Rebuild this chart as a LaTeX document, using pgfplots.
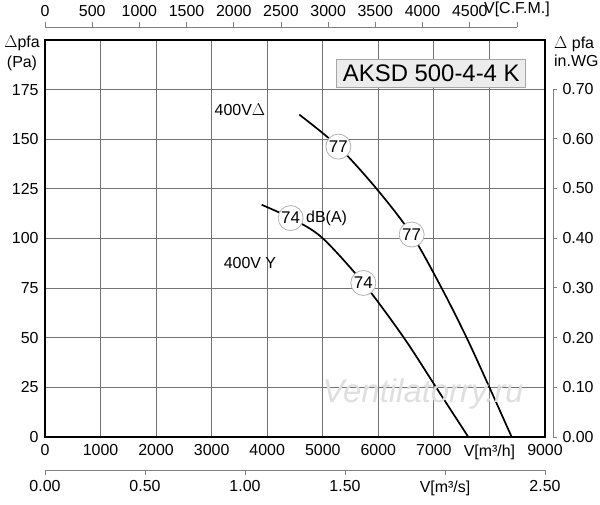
\documentclass[border=0pt]{standalone}
\usepackage{pgfplots}
\pgfplotsset{compat=1.18}
\usepackage{fontspec}
\setmainfont{Liberation Sans}
\begin{document}
\fontsize{16}{19}\selectfont
\begin{tikzpicture}[x=1bp,y=1bp]
\useasboundingbox (-45bp,-68bp) rectangle (555bp,437bp);
% main axis
\begin{axis}[
  at={(0bp,0bp)}, anchor=south west, scale only axis,
  width=500bp, height=397bp,
  xmin=0, xmax=9000, ymin=0, ymax=200,
  xtick={0,1000,...,9000},
  xticklabels={0,1000,2000,3000,4000,5000,6000,7000,{V[m³/h]},9000},
  ytick={0,25,...,175},
  yticklabels={0,25,50,75,100,125,150,175},
  grid=major, major grid style={draw=black!55, line width=0.9bp},
  axis line style={line width=1.7bp, black},
  tick style={draw=none},
  ticklabel style={font=\fontsize{16}{19}\selectfont},
  xticklabel style={yshift=-2bp},
  yticklabel style={xshift=-1bp},
  /pgf/number format/assume math mode=true,
  clip=true,
]
\addplot[line width=1.7bp, black, smooth, tension=0.5] coordinates {
 (4578,162.4) (5280,146.3) (5970,125) (6600,102) (7140,75) (7590,50) (8000,25) (8400,0)};
\addplot[line width=1.7bp, black, smooth, tension=0.5] coordinates {
 (3900,117) (4422,110.3) (4980,100.6) (5730,77.6) (6460,50) (7040,25) (7620,0)};
\addplot[only marks, mark=*, mark size=12.5bp, mark options={fill=white, draw=gray!60, line width=0.8bp},
  nodes near coords, point meta=explicit symbolic,
  every node near coord/.append style={anchor=center, font=\fontsize{17}{19}\selectfont, inner sep=0pt}]
  coordinates {(5280,146.3)[77] (6600,102)[77] (4422,110.3)[74] (5730,77.6)[74]};
\node[anchor=west, inner sep=0pt] at (axis cs:4698,110.3) {dB(A)};
\node[inner sep=0pt] at (axis cs:3510,164.8) {400V$\Delta$};
\node[inner sep=0pt] at (axis cs:3690,87.5) {400V Y};
\node[inner sep=0pt, text=gray!25, font=\fontsize{33}{36}\selectfont\itshape] at (axis cs:6804,21.5) {Ventilatorry.ru};
\node[draw=gray!70, fill=gray!15, line width=0.8bp, minimum width=189bp, minimum height=28bp, inner sep=0pt,
  font=\fontsize{24}{26}\selectfont] at (rel axis cs:0.7726,0.916) {AKSD 500-4-4 K};
\end{axis}
% top CFM axis
\begin{axis}[
  at={(0bp,400bp)}, anchor=south west, scale only axis,
  width=471.95bp, height=10bp,
  xmin=0, xmax=5000, ymin=0, ymax=1,
  axis x line*=top, hide y axis,
  xtick={0,500,...,5000},
  xticklabels={0,500,1000,1500,2000,2500,3000,3500,4000,4500,{V[C.F.M.]}},
  tick align=outside, major tick length=5bp,
  tick style={draw=gray, line width=0.8bp},
  axis line style={draw=gray, line width=0.8bp},
  ticklabel style={font=\fontsize{16}{19}\selectfont},
]
\end{axis}
% bottom m3/s axis
\begin{axis}[
  at={(0bp,-33bp)}, anchor=south west, scale only axis,
  width=500bp, height=10bp,
  xmin=0, xmax=2.5, ymin=0, ymax=1,
  axis x line*=bottom, hide y axis,
  xtick={0,0.5,1,1.5,2,2.5},
  xticklabels={0.00,0.50,1.00,1.50,{V[m³/s]},2.50},
  tick align=outside, major tick length=5bp,
  tick style={draw=gray, line width=0.8bp},
  axis line style={draw=gray, line width=0.8bp},
  ticklabel style={font=\fontsize{16}{19}\selectfont},
]
\end{axis}
% right in.WG axis
\begin{axis}[
  at={(0bp,0bp)}, anchor=south west, scale only axis,
  width=508bp, height=348bp,
  xmin=0, xmax=1, ymin=0, ymax=0.7,
  axis y line*=right, hide x axis,
  ytick={0,0.1,0.2,0.3,0.4,0.5,0.6,0.7},
  yticklabels={0.00,0.10,0.20,0.30,0.40,0.50,0.60,0.70},
  tick align=outside, major tick length=4bp,
  tick style={draw=gray, line width=0.8bp},
  axis line style={draw=gray, line width=0.8bp},
  ticklabel style={font=\fontsize{16}{19}\selectfont},
]
\end{axis}
% axis titles
\node[inner sep=0pt] at (-23bp,394bp) {$\Delta$pfa};
\node[inner sep=0pt] at (-23bp,374bp) {(Pa)};
\node[anchor=west, inner sep=0pt] at (509bp,393bp) {$\Delta$ pfa};
\node[anchor=west, inner sep=0pt] at (509bp,376bp) {in.WG};
\end{tikzpicture}
\end{document}
